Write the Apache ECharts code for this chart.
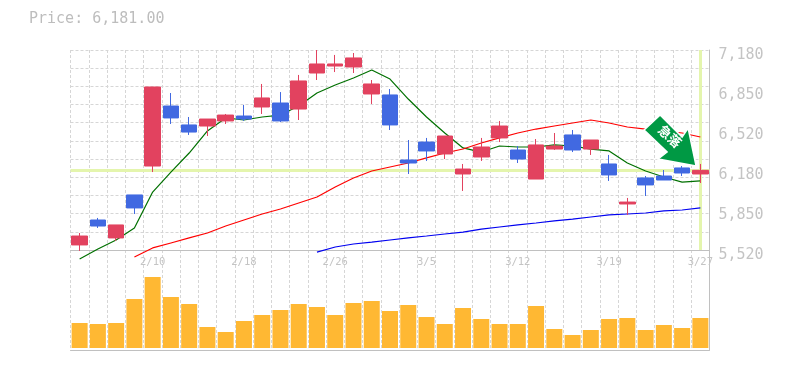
<!DOCTYPE html>
<html><head><meta charset="utf-8">
<style>html,body{margin:0;padding:0;background:#fff}#c{width:785px;height:370px}</style>
<script src="https://cdn.jsdelivr.net/npm/echarts@6/dist/echarts.min.js"></script>
</head><body><div id="c"></div>
<script>
const dateLabels = ['','','','','2/10','','','','','2/18','','','','','2/26','','','','','3/5','','','','','3/12','','','','','3/19','','','','','3/27'];
const opens  = [5562,5769,5620,5977,6217,6715,6558,6549,6591,6632,6707,6740,6690,6989,7047,7039,6815,6807,6267,6416,6317,6151,6292,6450,6350,6109,6358,6475,6358,6234,5902,6118,6134,6201,6151];
const closes = [5636,5719,5728,5869,6873,6616,6499,6607,6640,6607,6782,6591,6923,7064,7064,7114,6898,6558,6242,6342,6466,6192,6375,6549,6275,6392,6383,6350,6433,6143,5918,6060,6101,6159,6181];
const lows   = [5512,5703,5595,5819,6167,6566,6475,6466,6566,6591,6649,6582,6599,6931,6997,6989,6732,6516,6151,6259,6275,6010,6259,6416,6242,6109,6350,6333,6309,6093,5811,5968,6101,6134,6076];
const highs  = [5661,5786,5728,5977,6873,6823,6624,6607,6649,6724,6898,6831,6973,7180,7139,7155,6931,6856,6433,6450,6466,6234,6450,6591,6383,6441,6491,6516,6433,6309,5952,6134,6184,6217,6234];
const maShort = [5445,5528,5603,5703,6001,6167,6325,6508,6616,6599,6624,6640,6715,6823,6890,6948,7014,6939,6773,6624,6491,6367,6333,6383,6375,6375,6392,6383,6358,6342,6242,6176,6126,6084,6093];
const maMid  = [null,null,null,5462,5537,5578,5620,5661,5719,5769,5819,5860,5910,5960,6043,6118,6176,6209,6242,6284,6325,6358,6408,6450,6491,6524,6549,6574,6599,6574,6541,6524,6508,6491,6458];
const maLong = [null,null,null,null,null,null,null,null,null,null,null,null,null,5503,5545,5570,5586,5603,5620,5636,5653,5669,5694,5711,5728,5744,5761,5777,5794,5811,5819,5827,5844,5852,5869];
const volumes = [25,24,25,49,71,51,44,21,16,27,33,38,44,41,33,45,47,37,43,31,24,40,29,24,24,42,19,13,18,29,30,18,23,20,30];
const priceTicks = [5520,5852,6184,6516,6848,7180];
const priceTickLabels = ['5,520','5,850','6,180','6,520','6,850','7,180'];
const lastPrice = 6181;
const titleText = 'Price: 6,181.00';
const arrowText = '急落';

const MONO = '"DejaVu Sans Mono", monospace';
const GRID = {color:'#d6d6d6', width:1, type:[3,2]};
const EDGE = {color:'#c0c0c0', width:1};
const rows = opens.map((o,i)=>[o,closes[i],lows[i],highs[i]]);
const arrowPath = 'path://M660 115 L644 130 L667 152 L658 159 L696 166 L688 128 L682 137 Z';

const chart = echarts.init(document.getElementById('c'), null, {renderer:'canvas'});
chart.setOption({
  animation:false,
  backgroundColor:'#fff',
  title:{text:titleText,left:29,top:12,padding:0,textStyle:{fontFamily:MONO,fontSize:15,fontWeight:'normal',color:'#bdbdbd'}},
  grid:[{left:70.5,width:639,top:50,height:200},{left:70.5,width:639,top:250,height:100}],
  xAxis:[
    {type:'category',gridIndex:0,data:dateLabels,boundaryGap:true,
     axisLine:{show:true,onZero:false,lineStyle:EDGE},axisTick:{show:false},
     axisLabel:{interval:(i)=>i%5===4,margin:7,fontFamily:MONO,fontSize:10.5,color:'#c4c4c4',hideOverlap:false},
     splitLine:{show:true,interval:0,lineStyle:GRID}},
    {type:'category',gridIndex:1,data:dateLabels,boundaryGap:true,
     axisLine:{show:true,onZero:false,lineStyle:EDGE},axisTick:{show:false},axisLabel:{show:false},
     splitLine:{show:true,interval:0,lineStyle:GRID}}
  ],
  yAxis:[
    {type:'value',gridIndex:0,position:'right',min:5520,max:7180,scale:true,
     axisLine:{show:true,lineStyle:EDGE},axisTick:{show:false},
     axisLabel:{customValues:priceTicks,formatter:(v)=>'{a|'+priceTickLabels[priceTicks.indexOf(v)]+'}',margin:9,verticalAlign:'middle',
       rich:{a:{fontFamily:MONO,fontSize:15,color:'#c4c4c4',padding:[10,0,0,0]}}},
     splitLine:{show:false}},
    {type:'value',gridIndex:0,position:'left',min:0,max:11,interval:1,
     axisLine:{show:false},axisTick:{show:false},axisLabel:{show:false},splitLine:{show:true,lineStyle:GRID}},
    {type:'value',gridIndex:1,position:'right',min:-2,max:98,
     axisLine:{show:true,lineStyle:EDGE},axisTick:{show:false},axisLabel:{show:false},splitLine:{show:false}}
  ],
  series:[
    {type:'line',xAxisIndex:0,yAxisIndex:0,data:[],z:1,silent:true,
     markLine:{silent:true,z:1,symbol:'none',label:{show:false},animation:false,
       lineStyle:{color:'#e4f5ad',width:3,type:'solid'},
       data:[{yAxis:lastPrice},{xAxis:34}]}},
    {type:'line',name:'short',xAxisIndex:0,yAxisIndex:0,data:maShort,showSymbol:false,clip:false,z:2,lineStyle:{color:'#007000',width:1.2}},
    {type:'line',name:'mid',xAxisIndex:0,yAxisIndex:0,data:maMid,showSymbol:false,clip:false,z:2,lineStyle:{color:'#ff0000',width:1.2}},
    {type:'line',name:'long',xAxisIndex:0,yAxisIndex:0,data:maLong,showSymbol:false,clip:false,z:2,lineStyle:{color:'#0000f0',width:1.2}},
    {type:'candlestick',xAxisIndex:0,yAxisIndex:0,data:rows,barWidth:16,clip:false,z:3,
     itemStyle:{color:'#e2425f',color0:'#4169e1',borderColor:'#e2425f',borderColor0:'#4169e1',borderWidth:1},
     markPoint:{silent:true,animation:false,z:5,
       data:[{coord:[33,6429],symbol:arrowPath,symbolSize:[52,51],symbolKeepAspect:false,symbolOffset:[-12,0],
         itemStyle:{color:'#009944',borderColor:'#fff',borderWidth:1.5},
         label:{show:true,formatter:arrowText,position:'inside',offset:[-3,-3],rotate:-42,color:'#fff',fontSize:13,fontWeight:'bold',fontFamily:'"Noto Sans CJK JP"'}}]}},
    {type:'bar',xAxisIndex:1,yAxisIndex:2,data:volumes,barWidth:16,itemStyle:{color:'#ffb833'}}
  ]
});
</script></body></html>
